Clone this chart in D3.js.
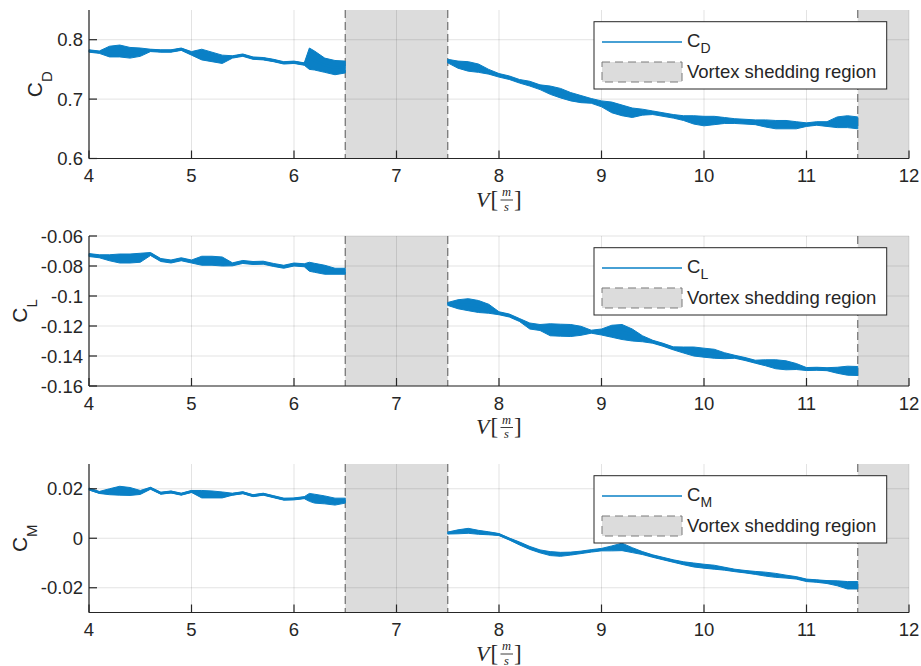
<!DOCTYPE html>
<html><head><meta charset="utf-8">
<script src="https://cdn.jsdelivr.net/npm/d3@7"></script>
<style>
body{margin:0;background:#fff}
svg{display:block}
text{fill:#262626}
</style></head>
<body><svg id="c" width="921" height="666"></svg>
<script>
// ---------- DATA ----------
const vLow  = [4.0,4.1,4.2,4.3,4.4,4.5,4.6,4.7,4.8,4.9,5.0,5.1,5.2,5.3,5.4,5.5,5.6,5.7,5.8,5.9,6.0,6.1,6.15,6.2,6.3,6.4,6.5];
const vHigh = [7.5,7.6,7.7,7.8,7.9,8.0,8.1,8.2,8.3,8.4,8.5,8.6,8.7,8.8,8.9,9.0,9.1,9.2,9.3,9.4,9.5,9.6,9.7,9.8,9.9,10.0,10.1,10.2,10.3,10.4,10.5,10.6,10.7,10.8,10.9,11.0,11.1,11.2,11.3,11.4,11.5];

// C_D : mean and fluctuation half-width
const cdLow = [0.781,0.779,0.780,0.781,0.778,0.779,0.782,0.781,0.781,0.784,0.777,0.775,0.771,0.767,0.771,0.774,0.769,0.768,0.765,0.761,0.762,0.759,0.768,0.765,0.757,0.753,0.754];
const cdLowSpread = [0.002,0.002,0.009,0.010,0.009,0.007,0.002,0.002,0.002,0.002,0.003,0.009,0.008,0.007,0.002,0.002,0.002,0.002,0.002,0.002,0.002,0.002,0.018,0.016,0.012,0.012,0.010];
const cdHigh = [0.764,0.758,0.755,0.752,0.746,0.740,0.736,0.730,0.726,0.720,0.715,0.710,0.704,0.700,0.697,0.692,0.686,0.681,0.677,0.678,0.677,0.674,0.671,0.668,0.665,0.663,0.664,0.664,0.663,0.662,0.661,0.659,0.657,0.657,0.656,0.657,0.659,0.658,0.661,0.662,0.660];
const cdHighSpread = [0.003,0.006,0.008,0.007,0.004,0.003,0.003,0.003,0.004,0.004,0.007,0.008,0.007,0.006,0.004,0.005,0.009,0.009,0.008,0.005,0.003,0.003,0.003,0.004,0.007,0.008,0.007,0.005,0.004,0.004,0.004,0.006,0.007,0.007,0.006,0.003,0.003,0.004,0.009,0.010,0.010];

// C_L
const clLow = [-0.0727,-0.0735,-0.0745,-0.0750,-0.0750,-0.0745,-0.0720,-0.0760,-0.0770,-0.0755,-0.0770,-0.0765,-0.0765,-0.0770,-0.0789,-0.0773,-0.0780,-0.0778,-0.0793,-0.0805,-0.0790,-0.0795,-0.0805,-0.0812,-0.0825,-0.0835,-0.0835];
const clLowSpread = [0.001,0.001,0.002,0.003,0.003,0.003,0.001,0.001,0.001,0.001,0.001,0.003,0.003,0.003,0.001,0.001,0.001,0.001,0.001,0.001,0.001,0.001,0.003,0.003,0.003,0.002,0.002];
const clHigh = [-0.1053,-0.1055,-0.1058,-0.1070,-0.1085,-0.1115,-0.1130,-0.1160,-0.1200,-0.1210,-0.1225,-0.1228,-0.1230,-0.1232,-0.1238,-0.1240,-0.1235,-0.1240,-0.1260,-0.1285,-0.1305,-0.1325,-0.1349,-0.1360,-0.1370,-0.1378,-0.1385,-0.1398,-0.1405,-0.1420,-0.1438,-0.1445,-0.1455,-0.1462,-0.1470,-0.1487,-0.1485,-0.1488,-0.1495,-0.1498,-0.1500];
const clHighSpread = [0.001,0.003,0.004,0.004,0.003,0.001,0.001,0.001,0.002,0.002,0.004,0.004,0.004,0.003,0.001,0.002,0.004,0.005,0.004,0.002,0.001,0.001,0.001,0.002,0.003,0.003,0.003,0.002,0.001,0.001,0.001,0.002,0.003,0.003,0.002,0.001,0.001,0.001,0.002,0.003,0.003];

// C_M
const cmLow = [0.0199,0.0185,0.0188,0.0192,0.0189,0.0185,0.0202,0.0182,0.0187,0.0178,0.0189,0.0178,0.0177,0.0175,0.0178,0.0184,0.0172,0.0178,0.0168,0.0158,0.0159,0.0164,0.0165,0.0160,0.0155,0.0148,0.0152];
const cmLowSpread = [0.0004,0.0004,0.0012,0.0018,0.0016,0.0008,0.0004,0.0004,0.0004,0.0004,0.0004,0.0015,0.0014,0.0012,0.0004,0.0004,0.0004,0.0004,0.0004,0.0004,0.0004,0.0004,0.0016,0.0018,0.0016,0.0014,0.0010];
const cmHigh = [0.0021,0.0026,0.0030,0.0024,0.0020,0.0015,-0.0003,-0.0021,-0.0039,-0.0053,-0.0062,-0.0065,-0.0062,-0.0057,-0.0051,-0.0046,-0.0041,-0.0035,-0.0048,-0.0060,-0.0072,-0.0082,-0.0092,-0.0101,-0.0108,-0.0113,-0.0117,-0.0123,-0.0130,-0.0135,-0.0140,-0.0145,-0.0150,-0.0155,-0.0160,-0.0170,-0.0173,-0.0177,-0.0182,-0.0190,-0.0190];
const cmHighSpread = [0.0004,0.0008,0.0010,0.0008,0.0006,0.0004,0.0004,0.0006,0.0006,0.0006,0.0008,0.0008,0.0006,0.0005,0.0005,0.0005,0.0010,0.0015,0.0010,0.0006,0.0005,0.0005,0.0005,0.0006,0.0008,0.0008,0.0008,0.0006,0.0005,0.0005,0.0006,0.0008,0.0008,0.0006,0.0005,0.0005,0.0005,0.0006,0.0010,0.0015,0.0015];

const shadeRegions = [[6.5,7.5],[11.5,12]];
const xTicks = [4,5,6,7,8,9,10,11,12];
const xTickLabels = ["4","5","6","7","8","9","10","11","12"];
const cdTicks = [0.6,0.7,0.8];
const cdTickLabels = ["0.6","0.7","0.8"];
const clTicks = [-0.16,-0.14,-0.12,-0.1,-0.08,-0.06];
const clTickLabels = ["-0.16","-0.14","-0.12","-0.1","-0.08","-0.06"];
const cmTicks = [-0.02,0,0.02];
const cmTickLabels = ["-0.02","0","0.02"];
const legendRegionLabel = "Vortex shedding region";

// ---------- LAYOUT ----------
const panels = [
  {top:10,  bottom:158.5, domain:[0.6,0.85],  ticks:cdTicks, tickLabels:cdTickLabels, sub:"D", ylabX:42,
   segs:[[vLow,cdLow,cdLowSpread],[vHigh,cdHigh,cdHighSpread]]},
  {top:236, bottom:386,   domain:[-0.16,-0.06], ticks:clTicks, tickLabels:clTickLabels, sub:"L", ylabX:27,
   segs:[[vLow,clLow,clLowSpread],[vHigh,clHigh,clHighSpread]]},
  {top:464, bottom:612.5, domain:[-0.03,0.03], ticks:cmTicks, tickLabels:cmTickLabels, sub:"M", ylabX:27,
   segs:[[vLow,cmLow,cmLowSpread],[vHigh,cmHigh,cmHighSpread]]}
];

const BLUE = "#0a80c6";
const AX = "#262626";
const SANS = '"Liberation Sans",Arial,Helvetica,sans-serif';
const SERIF = '"Liberation Serif","Times New Roman",serif';
const svg = d3.select("#c").style("font-family", SANS);
const x = d3.scaleLinear().domain([4,12]).range([89,909]);

panels.forEach(p => {
  const y = d3.scaleLinear().domain(p.domain).range([p.bottom, p.top]);
  const g = svg.append("g");

  shadeRegions.forEach(([a,b]) => {
    g.append("rect").attr("x", x(a)).attr("y", p.top)
      .attr("width", x(b)-x(a)).attr("height", p.bottom-p.top)
      .attr("fill", "#dcdcdc");
  });

  xTicks.forEach(t => {
    g.append("line").attr("x1", x(t)).attr("x2", x(t)).attr("y1", p.top).attr("y2", p.bottom)
      .attr("stroke", AX).attr("stroke-opacity", 0.13).attr("stroke-width", 1);
  });
  p.ticks.forEach(t => {
    g.append("line").attr("x1", x(4)).attr("x2", x(12)).attr("y1", y(t)).attr("y2", y(t))
      .attr("stroke", AX).attr("stroke-opacity", 0.13).attr("stroke-width", 1);
  });

  shadeRegions.forEach(([a,b]) => {
    [a,b].filter(v => v < 12).forEach(v => {
      g.append("line").attr("x1", x(v)).attr("x2", x(v)).attr("y1", p.top).attr("y2", p.bottom)
        .attr("stroke", "#6e6e6e").attr("stroke-width", 1.2).attr("stroke-dasharray", "8,4");
    });
  });

  p.segs.forEach(([vs, mid, sp]) => {
    const pts = vs.map((v,i) => ({v, m: mid[i], s: sp[i]}));
    const area = d3.area().x(d => x(d.v)).y0(d => y(d.m - d.s)).y1(d => y(d.m + d.s));
    const line = d3.line().x(d => x(d.v)).y(d => y(d.m));
    g.append("path").attr("d", area(pts)).attr("fill", BLUE).attr("stroke", BLUE).attr("stroke-width", 1);
    g.append("path").attr("d", line(pts)).attr("fill", "none").attr("stroke", BLUE)
      .attr("stroke-width", 2.4).attr("stroke-linejoin", "round");
  });

  g.append("line").attr("x1", x(4)).attr("x2", x(4)).attr("y1", p.top).attr("y2", p.bottom)
    .attr("stroke", AX).attr("stroke-width", 1.2);
  g.append("line").attr("x1", x(4)).attr("x2", x(12)).attr("y1", p.bottom).attr("y2", p.bottom)
    .attr("stroke", AX).attr("stroke-width", 1.2);

  xTicks.forEach((t,i) => {
    g.append("line").attr("x1", x(t)).attr("x2", x(t)).attr("y1", p.bottom).attr("y2", p.bottom-8)
      .attr("stroke", AX).attr("stroke-width", 1.2);
    g.append("text").attr("x", x(t)).attr("y", p.bottom+23.5).attr("text-anchor", "middle")
      .attr("font-size", "18.5px").text(xTickLabels[i]);
  });
  p.ticks.forEach((t,i) => {
    g.append("line").attr("x1", x(4)).attr("x2", x(4)+8).attr("y1", y(t)).attr("y2", y(t))
      .attr("stroke", AX).attr("stroke-width", 1.2);
    g.append("text").attr("x", 83).attr("y", y(t)).attr("dy", "0.36em").attr("text-anchor", "end")
      .attr("font-size", "18.5px").text(p.tickLabels[i]);
  });

  const yl = g.append("text")
    .attr("transform", `translate(${p.ylabX},${(p.top+p.bottom)/2}) rotate(-90)`)
    .attr("text-anchor", "middle").attr("font-size", "21px");
  yl.append("tspan").text("C");
  yl.append("tspan").attr("dy", 10).attr("font-size", "15px").text(p.sub);

  // x label  V [m/s]
  const xl = g.append("g").attr("transform", `translate(0,${p.bottom})`).style("font-family", SERIF);
  xl.append("text").attr("x", 476).attr("y", 48).attr("font-style", "italic")
    .attr("font-size", "22px").text("V");
  xl.append("text").attr("x", 490.5).attr("y", 48).attr("font-size", "23px").text("[");
  xl.append("text").attr("x", 506.5).attr("y", 37.5).attr("text-anchor", "middle")
    .attr("font-style", "italic").attr("font-size", "12.5px").text("m");
  xl.append("line").attr("x1", 500.5).attr("x2", 513).attr("y1", 41.5).attr("y2", 41.5)
    .attr("stroke", AX).attr("stroke-width", 0.9);
  xl.append("text").attr("x", 506.5).attr("y", 52).attr("text-anchor", "middle")
    .attr("font-style", "italic").attr("font-size", "12.5px").text("s");
  xl.append("text").attr("x", 514).attr("y", 48).attr("font-size", "23px").text("]");

  const lg = g.append("g").attr("transform", `translate(594,${p.top+11.7})`);
  lg.append("rect").attr("x", 0).attr("y", 0).attr("width", 292.7).attr("height", 67.3)
    .attr("fill", "#fff").attr("stroke", AX).attr("stroke-width", 1);
  lg.append("line").attr("x1", 8).attr("x2", 88).attr("y1", 20.3).attr("y2", 20.3)
    .attr("stroke", BLUE).attr("stroke-width", 1.5);
  lg.append("rect").attr("x", 8).attr("y", 40.3).attr("width", 80).attr("height", 20)
    .attr("fill", "#dcdcdc").attr("stroke", "#7a7a7a").attr("stroke-width", 1).attr("stroke-dasharray", "8,5");
  const lt = lg.append("text").attr("x", 93).attr("y", 25).attr("font-size", "18.5px");
  lt.append("tspan").text("C");
  lt.append("tspan").attr("dy", 6.6).attr("font-size", "14px").text(p.sub);
  lg.append("text").attr("x", 93).attr("y", 56.6).attr("font-size", "18.5px").text(legendRegionLabel);
});
</script></body></html>
